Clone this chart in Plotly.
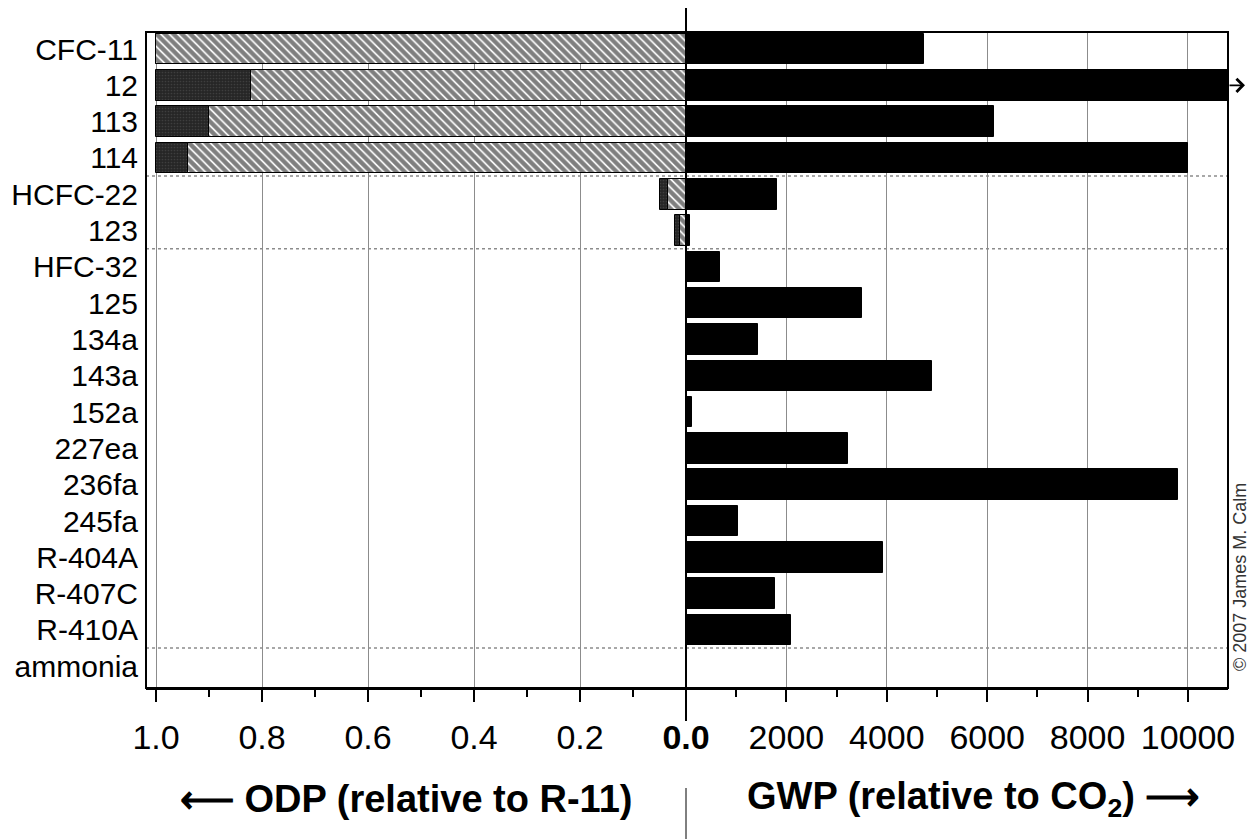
import plotly.graph_objects as go

# ---- data ----
refrigerants = ["CFC-11", "12", "113", "114", "HCFC-22", "123", "HFC-32", "125", "134a",
                "143a", "152a", "227ea", "236fa", "245fa", "R-404A", "R-407C", "R-410A", "ammonia"]
odp_low = [1.0, 0.82, 0.90, 0.94, 0.034, 0.012, 0, 0, 0, 0, 0, 0, 0, 0, 0, 0, 0, 0]
odp_high = [1.0, 1.0, 1.0, 1.0, 0.05, 0.02, 0, 0, 0, 0, 0, 0, 0, 0, 0, 0, 0, 0]
gwp = [4750, 10900, 6130, 10000, 1810, 77, 675, 3500, 1430, 4900, 124, 3220, 9810,
       1030, 3920, 1774, 2088, 0]

odp_ticks = [1.0, 0.8, 0.6, 0.4, 0.2, 0.0]
odp_ticktext = ["1.0", "0.8", "0.6", "0.4", "0.2", "<b>0.0</b>"]
odp_minor = [0.9, 0.7, 0.5, 0.3, 0.1]
gwp_ticks = [2000, 4000, 6000, 8000, 10000]
gwp_ticktext = ["2000", "4000", "6000", "8000", "10000"]
gwp_minor = [1000, 3000, 5000, 7000, 9000]
group_breaks = [3.5, 5.5, 16.5]

FONT = "Liberation Sans, Arial, sans-serif"
SPLIT = 0.49908
BAR_W = 0.84
OFF = 8  # page body margin
PLOT_W, PLOT_H, ML, MT = 1082, 656, 146, 32   # in window pixels
FIG_W, FIG_H = 1255 - OFF, 839 - OFF

def px_x(p):
    return (p - ML) / PLOT_W

def px_y(p):
    return (MT + PLOT_H - p) / PLOT_H

fig = go.Figure()

fig.add_trace(go.Bar(
    y=refrigerants, x=odp_high, orientation="h", xaxis="x", yaxis="y", width=BAR_W,
    marker=dict(color="#262626", line=dict(color="black", width=1),
                pattern=dict(shape=".", fgcolor="#555555", size=3, solidity=0.25)),
    showlegend=False, hoverinfo="x+y"))
fig.add_trace(go.Bar(
    y=refrigerants, x=odp_low, orientation="h", xaxis="x", yaxis="y", width=BAR_W,
    marker=dict(color="white", line=dict(color="black", width=1),
                pattern=dict(shape="\\", fgcolor="black", bgcolor="white", size=6, solidity=0.72)),
    showlegend=False, hoverinfo="x+y"))
fig.add_trace(go.Bar(
    y=refrigerants, x=gwp, orientation="h", xaxis="x2", yaxis="y", width=BAR_W,
    marker=dict(color="black", line=dict(color="black", width=1)),
    showlegend=False, hoverinfo="x+y"))

axis_common = dict(
    showgrid=True, gridcolor="#8c8c8c", gridwidth=1, zeroline=False,
    ticks="outside", ticklen=12, tickwidth=2, tickcolor="black",
    showline=True, linecolor="black", linewidth=2, automargin=False,
    tickfont=dict(family=FONT, size=34, color="black"), ticklabelstandoff=6,
    anchor="y",
)

fig.update_layout(
    width=FIG_W, height=FIG_H,
    margin=dict(l=ML - OFF, r=FIG_W - (ML - OFF) - PLOT_W, t=MT - OFF,
                b=FIG_H - (MT - OFF) - PLOT_H, autoexpand=False),
    paper_bgcolor="white", plot_bgcolor="white",
    barmode="overlay", bargap=0,
    xaxis=dict(domain=[0, SPLIT], range=[1.0189, 0], tickmode="array",
               tickvals=odp_ticks, ticktext=odp_ticktext,
               minor=dict(tickmode="array", tickvals=odp_minor, ticks="outside",
                          ticklen=7, tickwidth=1.5, tickcolor="black", showgrid=False),
               **axis_common),
    xaxis2=dict(domain=[SPLIT, 1], range=[0, 10797], tickmode="array",
                tickvals=gwp_ticks, ticktext=gwp_ticktext,
                minor=dict(tickmode="array", tickvals=gwp_minor, ticks="outside",
                           ticklen=7, tickwidth=1.5, tickcolor="black", showgrid=False),
                **axis_common),
    xaxis3=dict(overlaying="x", domain=[0, SPLIT], range=[1.0189, 0], anchor="y",
                tickmode="array", tickvals=odp_ticks[:-1], ticks="inside", ticklen=12,
                tickwidth=2, tickcolor="black", showticklabels=False, showgrid=False,
                zeroline=False, side="bottom", automargin=False),
    xaxis4=dict(overlaying="x2", domain=[SPLIT, 1], range=[0, 10797], anchor="y",
                tickmode="array", tickvals=gwp_ticks, ticks="inside", ticklen=12,
                tickwidth=2, tickcolor="black", showticklabels=False, showgrid=False,
                zeroline=False, side="bottom", automargin=False),
    yaxis=dict(type="category", categoryorder="array", categoryarray=refrigerants,
               tickmode="array", tickvals=refrigerants, ticktext=refrigerants,
               range=[17.6, -0.47], showgrid=False, zeroline=False, ticks="",
               showline=False, ticklabelstandoff=7, automargin=False,
               tickfont=dict(family=FONT, size=30, color="black")),
)

shapes = []
for yb in group_breaks:
    shapes.append(dict(type="line", xref="paper", yref="y", x0=0, x1=1, y0=yb, y1=yb,
                       line=dict(color="#8c8c8c", width=1.5, dash="dot"), layer="below"))
# frame
shapes.append(dict(type="rect", xref="paper", yref="paper", x0=0, x1=1, y0=0, y1=1,
                   line=dict(color="black", width=2), layer="above"))
# center divider line
shapes.append(dict(type="line", xref="paper", yref="paper", x0=SPLIT, x1=SPLIT,
                   y0=px_y(721), y1=px_y(8), line=dict(color="black", width=2), layer="above"))
# separator between axis titles
shapes.append(dict(type="line", xref="paper", yref="paper", x0=SPLIT, x1=SPLIT,
                   y0=px_y(788), y1=px_y(839), line=dict(color="#555555", width=1.5)))
fig.update_layout(shapes=shapes)

title_font = dict(family=FONT, size=38, color="black", weight="bold")
annotations = [
    dict(xref="paper", yref="paper", x=px_x(406), y=px_y(799),
         text="⟵ ODP (relative to R-11)", showarrow=False, xanchor="center", yanchor="middle",
         font=title_font),
    dict(xref="paper", yref="paper", x=px_x(973), y=px_y(799),
         text="GWP (relative to CO<sub>2</sub>) ⟶", showarrow=False, xanchor="center",
         yanchor="middle", font=title_font),
    dict(xref="paper", yref="paper", x=px_x(1240), y=px_y(577),
         text="© 2007 James M. Calm", showarrow=False, textangle=-90,
         xanchor="center", yanchor="middle",
         font=dict(family=FONT, size=18, color="#333333")),
    dict(xref="paper", yref="y", x=px_x(1245), y=1, ax=-17, ay=0,
         text="", showarrow=True, arrowhead=4, arrowsize=1.4, arrowwidth=1.8,
         arrowcolor="black"),
]
fig.update_layout(annotations=annotations)

fig.write_html("out.html")
